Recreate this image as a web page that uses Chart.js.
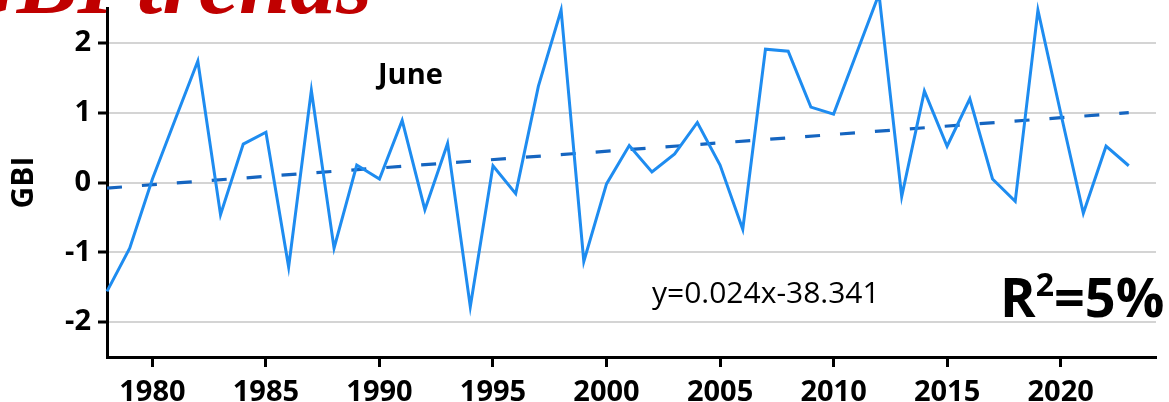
<!DOCTYPE html>
<html>
<head>
<meta charset="utf-8">
<script src="https://cdn.jsdelivr.net/npm/chart.js@4.4.1/dist/chart.umd.min.js"></script>
<style>
  html, body { margin: 0; padding: 0; background: #fff; }
  #wrap { width: 1169px; height: 402px; position: relative; }
</style>
</head>
<body>
<div id="wrap"><canvas id="gbiChart"></canvas></div>
<script>
const years = [
    1978, 1979, 1980, 1981, 1982, 1983, 1984, 1985, 1986, 1987,
    1988, 1989, 1990, 1991, 1992, 1993, 1994, 1995, 1996, 1997,
    1998, 1999, 2000, 2001, 2002, 2003, 2004, 2005, 2006, 2007,
    2008, 2009, 2010, 2011, 2012, 2013, 2014, 2015, 2016, 2017,
    2018, 2019, 2020, 2021, 2022, 2023
];
const gbiValues = [
    -1.56, -0.94, 0.05, 0.90, 1.74, -0.46, 0.55, 0.72, -1.21, 1.32,
    -0.94, 0.25, 0.05, 0.89, -0.39, 0.56, -1.78, 0.24, -0.16, 1.38,
    2.47, -1.13, -0.02, 0.53, 0.15, 0.41, 0.86, 0.25, -0.67, 1.91,
    1.88, 1.08, 0.98, 1.84, 2.70, -0.20, 1.31, 0.52, 1.20, 0.05,
    -0.27, 2.47, 1.00, -0.44, 0.52, 0.24
];
const trendYears = [1978, 2023];
const trendValues = [-0.08, 1.00];
const xTickValues = [1980, 1985, 1990, 1995, 2000, 2005, 2010, 2015, 2020];
const yTickValues = [-2, -1, 0, 1, 2];

const labelFont = "'Open Sans', sans-serif";

// title, panel label, equation and R² are drawn straight onto the canvas
const annotations = {
    id: "annotations",
    afterDraw(chart) {
        const ctx = chart.ctx;
        ctx.save();
        ctx.fillStyle = "#c00000";
        ctx.font = "italic bold 92px 'Liberation Serif', serif";
        ctx.textAlign = "right";
        ctx.textBaseline = "alphabetic";
        ctx.fillText("GBI trends", 372, 13);

        ctx.fillStyle = "#000";
        ctx.textAlign = "left";
        ctx.font = `bold 29px ${labelFont}`;
        ctx.fillText("June", 378, 84);

        ctx.font = `30px ${labelFont}`;
        ctx.fillText("y=0.024x-38.341", 652, 303);

        ctx.font = `bold 54px ${labelFont}`;
        let x = 1000;
        ctx.fillText("R", x, 317);
        x += ctx.measureText("R").width;
        ctx.font = `bold 32px ${labelFont}`;
        ctx.fillText("2", x, 296);
        x += ctx.measureText("2").width;
        ctx.font = `bold 54px ${labelFont}`;
        ctx.fillText("=5%", x, 317);
        ctx.restore();
    }
};

const chart = new Chart(document.getElementById("gbiChart"), {
    type: "line",
    data: {
        datasets: [
            {
                label: "GBI",
                data: years.map((yr, i) => ({ x: yr, y: gbiValues[i] })),
                borderColor: "#1e8cf0",
                borderWidth: 3,
                pointRadius: 0,
                tension: 0,
                clip: false
            },
            {
                label: "Trend",
                data: trendYears.map((yr, i) => ({ x: yr, y: trendValues[i] })),
                borderColor: "#1565c0",
                borderWidth: 3.2,
                borderDash: [15, 20],
                pointRadius: 0,
                tension: 0
            }
        ]
    },
    options: {
        responsive: true,
        maintainAspectRatio: false,
        animation: false,
        layout: { padding: { top: 8, right: 13, left: 0, bottom: 0 } },
        plugins: {
            legend: { display: false },
            tooltip: { enabled: false }
        },
        scales: {
            x: {
                type: "linear",
                min: 1978,
                max: 2024.2,
                afterBuildTicks: (scale) => {
                    scale.ticks = xTickValues.map((v) => ({ value: v }));
                },
                afterFit: (scale) => {
                    scale.height = 45;
                    scale.paddingLeft = 0;
                    scale.paddingRight = 0;
                },
                border: { color: "#000", width: 3 },
                grid: {
                    drawOnChartArea: false,
                    drawTicks: true,
                    tickLength: 10,
                    tickWidth: 3,
                    tickColor: "#000"
                },
                ticks: {
                    color: "#000",
                    font: { family: labelFont, size: 29, weight: "bold" },
                    padding: 8,
                    maxRotation: 0,
                    callback: (v) => String(v)
                }
            },
            y: {
                min: -2.5,
                max: 2.5,
                afterBuildTicks: (scale) => {
                    scale.ticks = yTickValues.map((v) => ({ value: v }));
                },
                afterFit: (scale) => {
                    scale.width = 107;
                    scale.paddingTop = 0;
                    scale.paddingBottom = 0;
                },
                border: { color: "#000", width: 3 },
                grid: {
                    color: "#d4d4d4",
                    lineWidth: 2,
                    drawTicks: true,
                    tickLength: 9,
                    tickWidth: 3,
                    tickColor: "#000"
                },
                ticks: {
                    color: "#000",
                    font: { family: labelFont, size: 29, weight: "bold" },
                    padding: 7,
                    callback: (v) => String(v)
                },
                title: {
                    display: true,
                    text: "GBI",
                    color: "#000",
                    font: { family: labelFont, size: 30, weight: "bold" },
                    padding: { top: 6, bottom: 0 }
                }
            }
        }
    },
    plugins: [annotations]
});
</script>
</body>
</html>
